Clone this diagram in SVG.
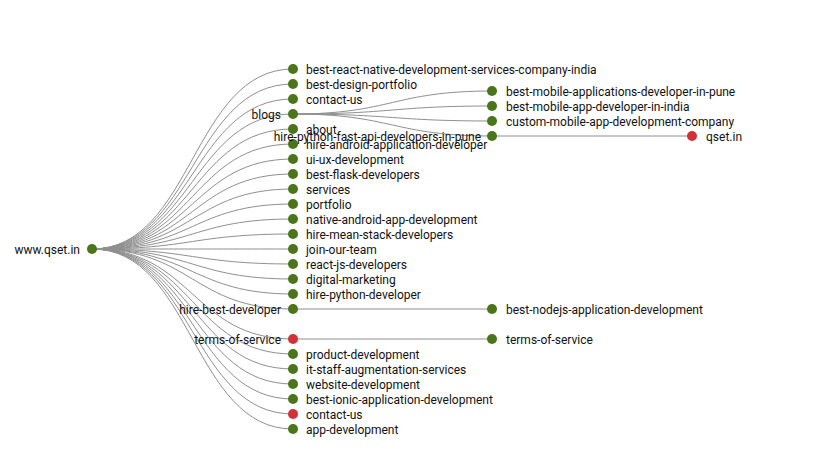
<svg xmlns="http://www.w3.org/2000/svg" width="822" height="470" viewBox="0 0 822 470">
<style>
.link{fill:none;stroke:#8f8f8f;stroke-width:1}
.n{fill:#4a751b}
.r{fill:#d1323a}
text{font-family:Roboto,"Liberation Sans",sans-serif;font-size:12px;fill:#111}
.l{text-anchor:end}
</style>
<rect width="822" height="470" fill="#fff"/>
<g id="links">
<path class="link" d="M92,249C192.5,249 192.5,69 293,69"/>
<path class="link" d="M92,249C192.5,249 192.5,84 293,84"/>
<path class="link" d="M92,249C192.5,249 192.5,99 293,99"/>
<path class="link" d="M92,249C192.5,249 192.5,114 293,114"/>
<path class="link" d="M92,249C192.5,249 192.5,129 293,129"/>
<path class="link" d="M92,249C192.5,249 192.5,144 293,144"/>
<path class="link" d="M92,249C192.5,249 192.5,159 293,159"/>
<path class="link" d="M92,249C192.5,249 192.5,174 293,174"/>
<path class="link" d="M92,249C192.5,249 192.5,189 293,189"/>
<path class="link" d="M92,249C192.5,249 192.5,204 293,204"/>
<path class="link" d="M92,249C192.5,249 192.5,219 293,219"/>
<path class="link" d="M92,249C192.5,249 192.5,234 293,234"/>
<path class="link" d="M92,249C192.5,249 192.5,249 293,249"/>
<path class="link" d="M92,249C192.5,249 192.5,264 293,264"/>
<path class="link" d="M92,249C192.5,249 192.5,279 293,279"/>
<path class="link" d="M92,249C192.5,249 192.5,294 293,294"/>
<path class="link" d="M92,249C192.5,249 192.5,309 293,309"/>
<path class="link" d="M92,249C192.5,249 192.5,339 293,339"/>
<path class="link" d="M92,249C192.5,249 192.5,354 293,354"/>
<path class="link" d="M92,249C192.5,249 192.5,369 293,369"/>
<path class="link" d="M92,249C192.5,249 192.5,384 293,384"/>
<path class="link" d="M92,249C192.5,249 192.5,399 293,399"/>
<path class="link" d="M92,249C192.5,249 192.5,414 293,414"/>
<path class="link" d="M92,249C192.5,249 192.5,429 293,429"/>
<path class="link" d="M293,114C392.5,114 392.5,91 492,91"/>
<path class="link" d="M293,114C392.5,114 392.5,106 492,106"/>
<path class="link" d="M293,114C392.5,114 392.5,121 492,121"/>
<path class="link" d="M293,114C392.5,114 392.5,136 492,136"/>
<path class="link" d="M492,136L692,136"/>
<path class="link" d="M293,309L492,309"/>
<path class="link" d="M293,339L492,339"/>
</g>
<g id="nodes">
<g id="root"><circle class="n" cx="92" cy="249" r="5"/><text class="l" x="80" y="254">www.qset.in</text></g>
<g id="n1"><circle class="n" cx="293" cy="69" r="5"/><text x="306" y="74">best-react-native-development-services-company-india</text></g>
<g id="n2"><circle class="n" cx="293" cy="84" r="5"/><text x="306" y="89">best-design-portfolio</text></g>
<g id="n3"><circle class="n" cx="293" cy="99" r="5"/><text x="306" y="104">contact-us</text></g>
<g id="n4"><circle class="n" cx="293" cy="114" r="5"/><text class="l" x="281" y="119">blogs</text></g>
<g id="n5"><circle class="n" cx="293" cy="129" r="5"/><text x="306" y="134">about</text></g>
<g id="n6"><circle class="n" cx="293" cy="144" r="5"/><text x="306" y="149">hire-android-application-developer</text></g>
<g id="n7"><circle class="n" cx="293" cy="159" r="5"/><text x="306" y="164">ui-ux-development</text></g>
<g id="n8"><circle class="n" cx="293" cy="174" r="5"/><text x="306" y="179">best-flask-developers</text></g>
<g id="n9"><circle class="n" cx="293" cy="189" r="5"/><text x="306" y="194">services</text></g>
<g id="n10"><circle class="n" cx="293" cy="204" r="5"/><text x="306" y="209">portfolio</text></g>
<g id="n11"><circle class="n" cx="293" cy="219" r="5"/><text x="306" y="224">native-android-app-development</text></g>
<g id="n12"><circle class="n" cx="293" cy="234" r="5"/><text x="306" y="239">hire-mean-stack-developers</text></g>
<g id="n13"><circle class="n" cx="293" cy="249" r="5"/><text x="306" y="254">join-our-team</text></g>
<g id="n14"><circle class="n" cx="293" cy="264" r="5"/><text x="306" y="269">react-js-developers</text></g>
<g id="n15"><circle class="n" cx="293" cy="279" r="5"/><text x="306" y="284">digital-marketing</text></g>
<g id="n16"><circle class="n" cx="293" cy="294" r="5"/><text x="306" y="299">hire-python-developer</text></g>
<g id="n17"><circle class="n" cx="293" cy="309" r="5"/><text class="l" x="281" y="314">hire-best-developer</text></g>
<g id="n18"><circle class="r" cx="293" cy="339" r="5"/><text class="l" x="281" y="344">terms-of-service</text></g>
<g id="n19"><circle class="n" cx="293" cy="354" r="5"/><text x="306" y="359">product-development</text></g>
<g id="n20"><circle class="n" cx="293" cy="369" r="5"/><text x="306" y="374">it-staff-augmentation-services</text></g>
<g id="n21"><circle class="n" cx="293" cy="384" r="5"/><text x="306" y="389">website-development</text></g>
<g id="n22"><circle class="n" cx="293" cy="399" r="5"/><text x="306" y="404">best-ionic-application-development</text></g>
<g id="n23"><circle class="r" cx="293" cy="414" r="5"/><text x="306" y="419">contact-us</text></g>
<g id="n24"><circle class="n" cx="293" cy="429" r="5"/><text x="306" y="434">app-development</text></g>
<g id="b1"><circle class="n" cx="492" cy="91" r="5"/><text x="506" y="96">best-mobile-applications-developer-in-pune</text></g>
<g id="b2"><circle class="n" cx="492" cy="106" r="5"/><text x="506" y="111">best-mobile-app-developer-in-india</text></g>
<g id="b3"><circle class="n" cx="492" cy="121" r="5"/><text x="506" y="126">custom-mobile-app-development-company</text></g>
<g id="b4"><circle class="n" cx="492" cy="136" r="5"/><text class="l" x="481" y="141">hire-python-fast-api-developers-in-pune</text></g>
<g id="q1"><circle class="r" cx="692" cy="136" r="5"/><text x="706" y="141">qset.in</text></g>
<g id="h1"><circle class="n" cx="492" cy="309" r="5"/><text x="506" y="314">best-nodejs-application-development</text></g>
<g id="t1"><circle class="n" cx="492" cy="339" r="5"/><text x="506" y="344">terms-of-service</text></g>
</g>
</svg>
